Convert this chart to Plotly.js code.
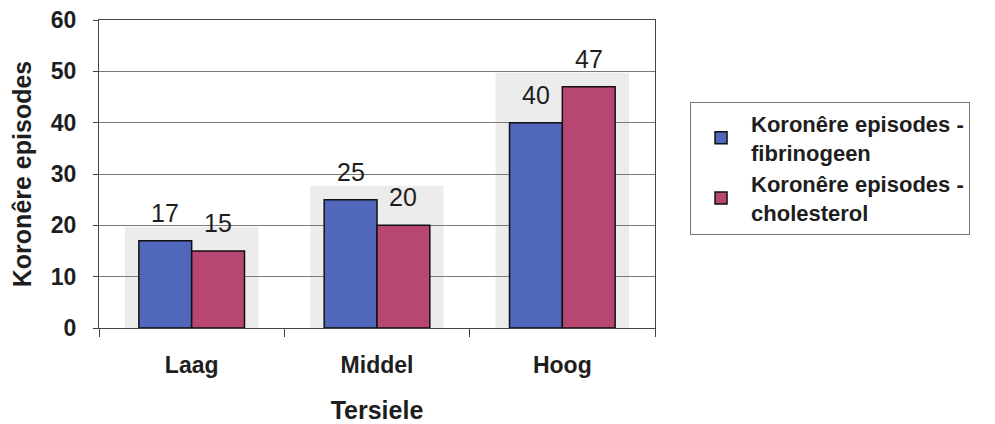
<!DOCTYPE html>
<html>
<head>
<meta charset="utf-8">
<script src="https://cdn.plot.ly/plotly-3.0.1.min.js"></script>
<style>
  html, body { margin: 0; padding: 0; background: #ffffff; }
  #chart { width: 995px; height: 424px; }
</style>
</head>
<body>
<div id="chart"></div>
<script>
// Tertiles of the risk factor and coronary episodes per tertile
const categories = ['Laag', 'Middel', 'Hoog'];
const fibrinogeen = [17, 25, 40];
const cholesterol = [15, 20, 47];
const seriesNames = ['Koronêre episodes -<br>fibrinogeen', 'Koronêre episodes -<br>cholesterol'];

const blue = '#5067bb';
const pink = '#b84673';
const font = 'Liberation Sans, Arial, sans-serif';
const ink = '#1e1e1e';

const traces = [
  {
    type: 'bar', name: seriesNames[0], x: categories, y: fibrinogeen,
    marker: { color: blue, line: { color: '#111', width: 1.5 } },
    hoverinfo: 'x+y'
  },
  {
    type: 'bar', name: seriesNames[1], x: categories, y: cholesterol,
    marker: { color: pink, line: { color: '#111', width: 1.5 } },
    hoverinfo: 'x+y'
  }
];

const bargap = 0.43;
const barWidth = (1 - bargap) / 2;

// value labels above each bar
const annotations = [];
[fibrinogeen, cholesterol].forEach((vals, s) => {
  vals.forEach((v, i) => {
    annotations.push({
      x: i + (s === 0 ? -barWidth / 2 : barWidth / 2), y: v,
      xref: 'x', yref: 'y', text: String(v), showarrow: false,
      yanchor: 'bottom', yshift: 12,
      font: { family: font, size: 25, color: ink }
    });
  });
});

// light shaded panel behind each group of bars
const shapes = categories.map((c, i) => ({
  type: 'rect', xref: 'x', yref: 'y', layer: 'below',
  x0: i - 0.36, x1: i + 0.36, y0: 0,
  y1: Math.max(fibrinogeen[i], cholesterol[i]) + 2.7,
  fillcolor: 'rgba(200,200,200,0.35)', line: { width: 0 }
}));

const layout = {
  width: 995, height: 424,
  margin: { l: 99, r: 340, t: 20, b: 96 },
  paper_bgcolor: '#ffffff', plot_bgcolor: '#ffffff',
  barmode: 'group', bargap: bargap, bargroupgap: 0,
  font: { family: font, color: ink },
  showlegend: true,
  legend: {
    x: 1.063, y: 0.735, xanchor: 'left', yanchor: 'top',
    bgcolor: '#ffffff', bordercolor: '#777', borderwidth: 1,
    font: { family: font, size: 22, color: ink, weight: 'bold' },
    itemwidth: 50,
    tracegroupgap: 8
  },
  xaxis: {
    type: 'category',
    showline: true, linecolor: '#444', linewidth: 1, mirror: true,
    ticks: 'outside', tickson: 'boundaries', ticklen: 8, tickcolor: '#444',
    ticklabelstandoff: 16,
    tickfont: { family: font, size: 23, color: ink, weight: 'bold' },
    title: { text: 'Tersiele', standoff: 28, font: { family: font, size: 25, color: ink, weight: 'bold' } },
    showgrid: false, fixedrange: true
  },
  yaxis: {
    range: [0, 60], dtick: 10,
    showline: true, linecolor: '#444', linewidth: 1, mirror: true,
    ticks: 'outside', ticklen: 5, tickcolor: '#444',
    ticklabelstandoff: 12,
    showgrid: true, gridcolor: '#7a7a7a', gridwidth: 1,
    zeroline: false,
    tickfont: { family: font, size: 23, color: ink, weight: 'bold' },
    title: { text: 'Koronêre episodes', standoff: 12, font: { family: font, size: 25, color: ink, weight: 'bold' } },
    fixedrange: true
  },
  annotations: annotations,
  shapes: shapes
};

Plotly.newPlot('chart', traces, layout, { displayModeBar: false, staticPlot: true });
</script>
</body>
</html>
